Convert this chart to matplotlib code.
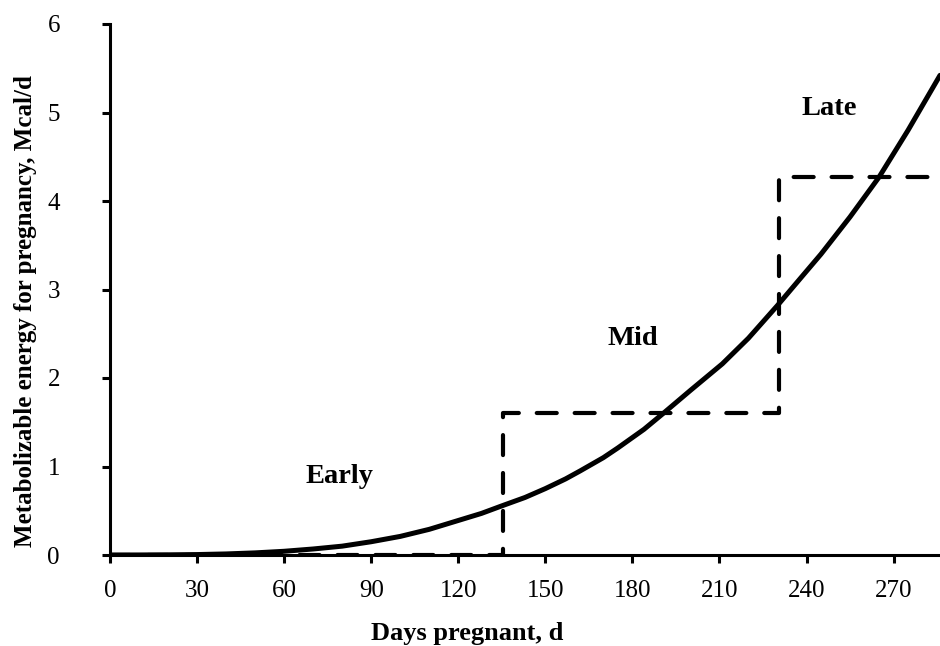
import matplotlib
matplotlib.use('Agg')
import matplotlib.pyplot as plt

plt.rcParams['font.family'] = ['Liberation Serif', 'DejaVu Serif']

# curve (days, Mcal/d)
days = [0, 10, 20, 30, 40, 50, 60, 70, 80, 90, 100, 110, 120, 128, 135, 143, 150,
        157, 162, 170, 175, 184, 191, 200, 211, 220, 230, 238, 245, 255, 265, 275, 286]
energy = [0.0, 0.0005, 0.002, 0.005, 0.012, 0.024, 0.042, 0.068, 0.10, 0.15, 0.21,
          0.29, 0.39, 0.47, 0.555, 0.65, 0.75, 0.86, 0.95, 1.10, 1.21, 1.42, 1.61,
          1.86, 2.16, 2.45, 2.82, 3.13, 3.40, 3.82, 4.27, 4.80, 5.42]

# stepwise requirement by stage
step_days = [0, 135.5, 135.5, 230.5, 230.5, 290]
step_energy = [0.0, 0.0, 1.61, 1.61, 4.27, 4.27]

stage_names = ['Early', 'Mid', 'Late']
stage_x = [79, 180, 248]
stage_y = [0.89, 2.45, 5.05]

fig = plt.figure(figsize=(9.4, 6.46), dpi=100)
ax = fig.add_axes([110 / 940, 91 / 646, 1 - 110 / 940, (555 - 24) / 646])

ax.plot(step_days, step_energy, color='black', lw=3, dashes=(4.8, 4.3),
        solid_capstyle='butt', dash_capstyle='round')
ax.plot(days, energy, color='black', lw=3.6, solid_capstyle='round')

for name, x, y in zip(stage_names, stage_x, stage_y):
    ax.text(x, y, name, ha='center', va='center', fontsize=20.5, fontweight='bold')

ax.set_xlim(0, 286)
ax.set_ylim(0, 6)
ax.set_xticks(range(0, 271, 30))
ax.set_yticks(range(0, 7))
ax.spines['top'].set_visible(False)
ax.spines['right'].set_visible(False)
for s in ['left', 'bottom']:
    ax.spines[s].set_linewidth(2.2)
ax.tick_params(axis='both', direction='out', length=6, width=2.2, labelsize=18)
ax.tick_params(axis='x', pad=12)
ax.tick_params(axis='y', pad=30)

ax.set_xlabel('Days pregnant, d', fontsize=19, fontweight='bold')
ax.xaxis.set_label_coords(0.43, -0.126)
ax.set_ylabel('Metabolizable energy for pregnancy, Mcal/d', fontsize=18,
              fontweight='bold')
ax.yaxis.set_label_coords(-0.088, 0.46)

fig.savefig('out.png', dpi=100)
